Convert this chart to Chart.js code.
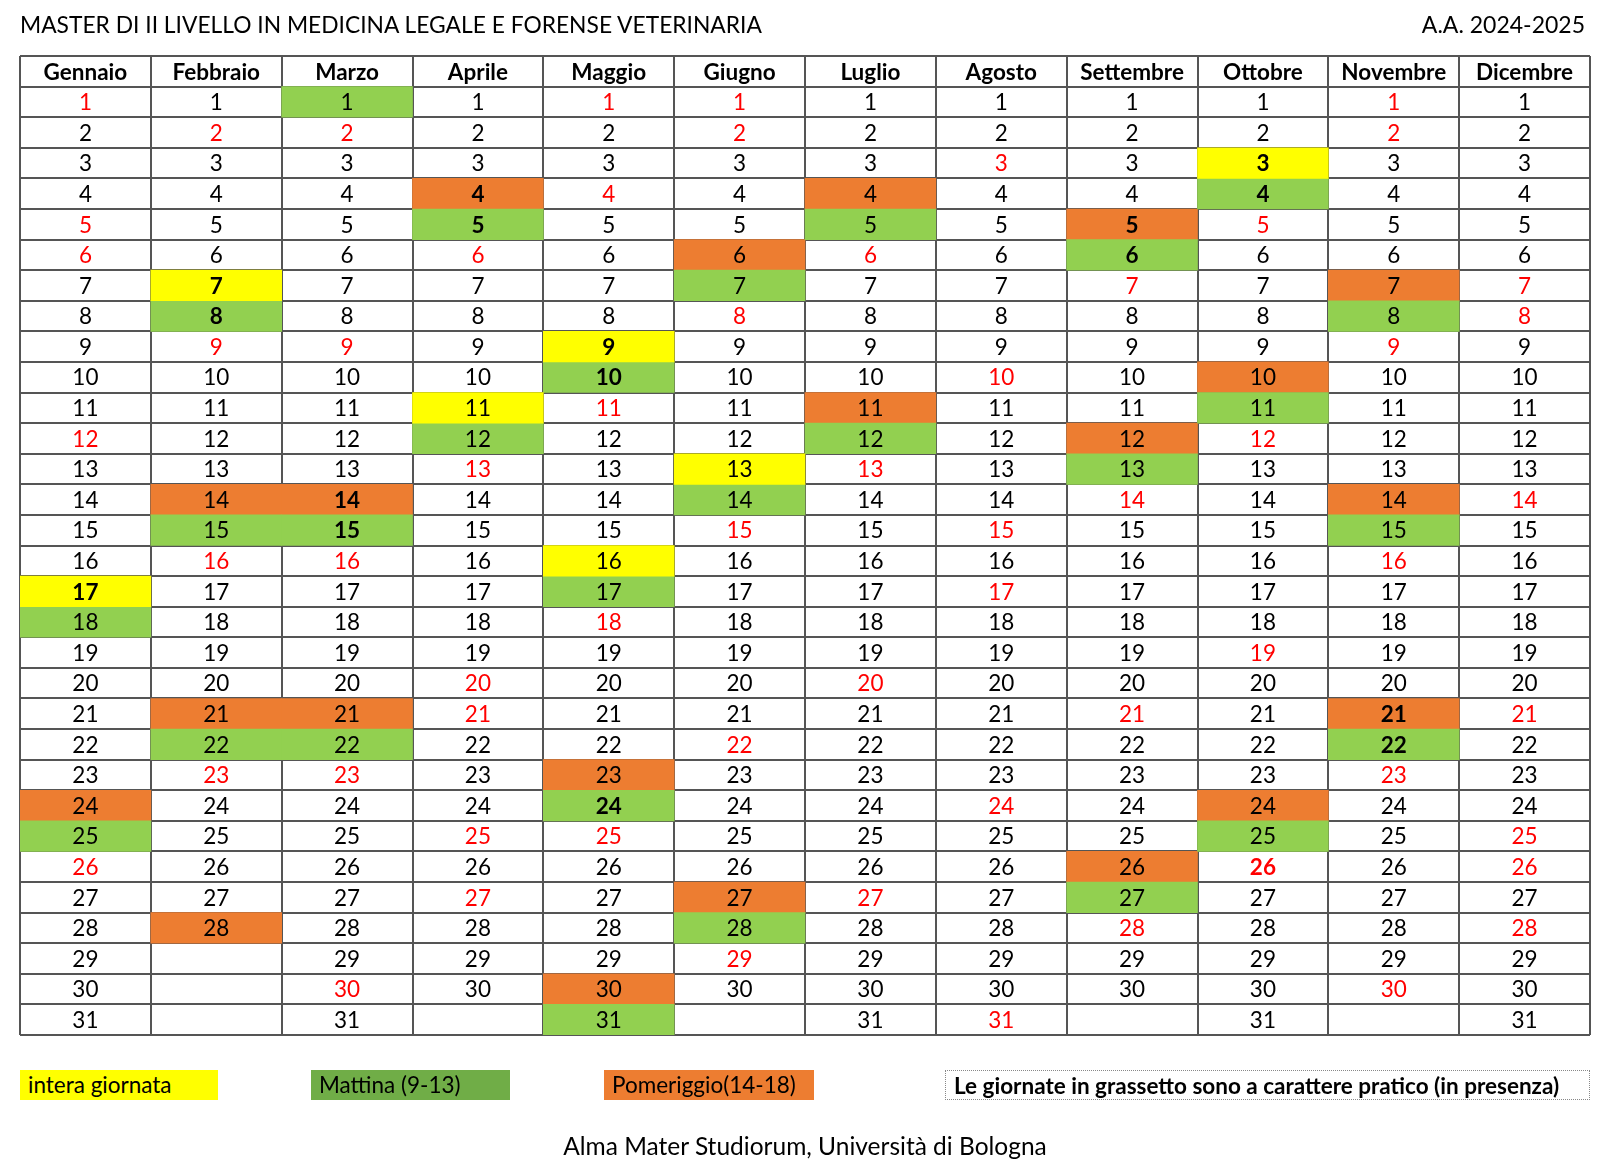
<!DOCTYPE html>
<html>
<head>
<meta charset="utf-8">
<script src="https://cdn.jsdelivr.net/npm/chart.js@4.4.1/dist/chart.umd.min.js"></script>
<style>
  body { margin: 0; background: #fff; font-family: Lato, sans-serif; }
  #wrap { position: relative; width: 1610px; height: 1176px; }
  canvas { position: absolute; left: 0; top: 0; }
  .txt { position: absolute; white-space: nowrap; color: #000; line-height: 1; }
  .key { position: absolute; top: 1070px; height: 30px; line-height: 30px; font-size: 22.5px; padding-left: 8px; box-sizing: border-box; white-space: nowrap; }
</style>
</head>
<body>
<div id="wrap">
  <canvas id="cal" width="1610" height="1176"></canvas>
  <div class="txt" style="left:20px;top:13px;font-size:22.8px">MASTER DI II LIVELLO IN MEDICINA LEGALE E FORENSE VETERINARIA</div>
  <div class="txt" style="right:25px;top:13px;font-size:23px">A.A. 2024-2025</div>
  <div class="key" style="left:20px;width:198px;background:#ffff00">intera giornata</div>
  <div class="key" style="left:311px;width:199px;background:#70ad47">Mattina (9-13)</div>
  <div class="key" style="left:604px;width:210px;background:#ed7d31">Pomeriggio(14-18)</div>
  <div class="key" style="left:945px;width:645px;border:1px dotted #888;font-weight:bold">Le giornate in grassetto sono a carattere pratico (in presenza)</div>
  <div class="txt" style="left:0;width:1610px;text-align:center;top:1134px;font-size:24.5px">Alma Mater Studiorum, Università di Bologna</div>
</div>
<script>
// months and how many days each one has
const months = ['Gennaio', 'Febbraio', 'Marzo', 'Aprile', 'Maggio', 'Giugno', 'Luglio', 'Agosto', 'Settembre', 'Ottobre', 'Novembre', 'Dicembre'];
const monthDays = [31, 28, 31, 30, 31, 30, 31, 31, 30, 31, 30, 31];

// lesson days, one list per month
const fullDay = [[17], [7], [], [11], [9, 16], [13], [], [], [], [3], [], []];
const morning = [[18, 25], [8, 15, 22], [1, 15, 22], [5, 12], [10, 17, 24, 31], [7, 14, 28], [5, 12], [], [6, 13, 27], [4, 11, 25], [8, 15, 22], []];
const afternoon = [[24], [14, 21, 28], [14, 21], [4], [23, 30], [6, 27], [4, 11], [], [5, 12, 26], [10, 24], [7, 14, 21], []];

// sundays / holidays written in red
const redDays = [
  [1, 5, 6, 12, 26], [2, 9, 16, 23], [2, 9, 16, 23, 30], [6, 13, 20, 21, 25, 27],
  [1, 4, 11, 18, 25], [1, 2, 8, 15, 22, 29], [6, 13, 20, 27], [3, 10, 15, 17, 24, 31],
  [7, 14, 21, 28], [5, 12, 19, 26], [1, 2, 9, 16, 23, 30], [7, 8, 14, 21, 25, 26, 28]
];

// practical days (bold)
const boldDays = [[17], [7, 8], [14, 15], [4, 5], [9, 10, 24], [], [], [], [5, 6], [3, 4, 26], [21, 22], []];

// turns a per-month list into floating bars, one row per day
function toCells(list) {
  const cells = [];
  list.forEach((days, i) => {
    days.forEach(d => cells.push({ x: months[i], y: [d, d + 1] }));
  });
  return cells;
}

const FONT = 'Lato';

// writes the month names and the day numbers inside the table
const cellText = {
  id: 'cellText',
  afterDraw(chart) {
    const { ctx, scales: { x, y } } = chart;
    ctx.save();
    ctx.textAlign = 'center';
    ctx.textBaseline = 'middle';
    months.forEach((m, i) => {
      const cx = x.getPixelForValue(i);
      ctx.font = 'bold 22.5px ' + FONT;
      ctx.fillStyle = '#000';
      ctx.fillText(m, cx, y.getPixelForValue(0.5) + 1);
      for (let d = 1; d <= monthDays[i]; d++) {
        ctx.font = (boldDays[i].includes(d) ? 'bold ' : '') + '22.5px ' + FONT;
        ctx.fillStyle = redDays[i].includes(d) ? '#ff0000' : '#000';
        ctx.fillText(String(d), cx, y.getPixelForValue(d + 0.5) + 1);
      }
    });
    ctx.restore();
  }
};

const barStyle = { borderWidth: 0, grouped: false, barPercentage: 1, categoryPercentage: 1 };

new Chart(document.getElementById('cal'), {
  type: 'bar',
  data: {
    labels: months,
    datasets: [
      { label: 'intera giornata', data: toCells(fullDay), backgroundColor: '#ffff00', ...barStyle },
      { label: 'Mattina (9-13)', data: toCells(morning), backgroundColor: '#92d050', ...barStyle },
      { label: 'Pomeriggio(14-18)', data: toCells(afternoon), backgroundColor: '#ed7d31', ...barStyle }
    ]
  },
  options: {
    responsive: false,
    animation: false,
    layout: { padding: { left: 20, top: 56, right: 20, bottom: 141 } },
    plugins: { legend: { display: false }, tooltip: { enabled: false } },
    scales: {
      x: {
        z: 1,
        offset: true,
        ticks: { display: false },
        grid: { offset: true, drawTicks: false, color: '#555', lineWidth: 2 },
        border: { display: false }
      },
      y: {
        z: 1,
        reverse: true,
        min: 0,
        max: 32,
        ticks: { display: false, stepSize: 1 },
        grid: { drawTicks: false, color: '#555', lineWidth: 2 },
        border: { display: false }
      }
    }
  },
  plugins: [cellText]
});
</script>
</body>
</html>
